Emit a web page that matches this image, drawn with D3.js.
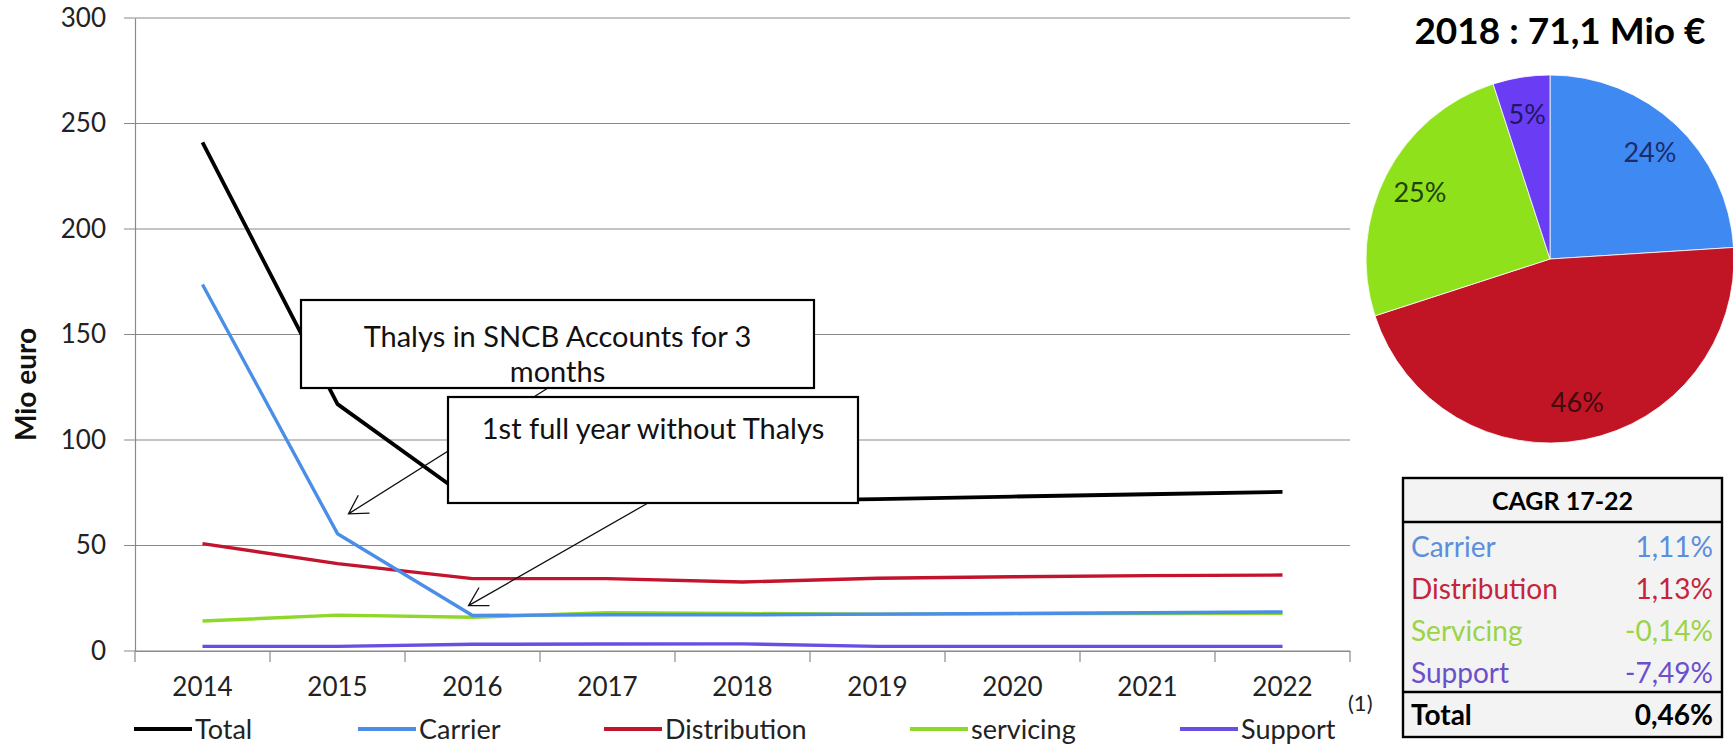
<!DOCTYPE html>
<html>
<head>
<meta charset="utf-8">
<script src="https://cdn.jsdelivr.net/npm/d3@7/dist/d3.min.js"></script>
<style>
  body { margin: 0; background: #fff; }
  svg text { font-family: Lato, "Open Sans", "DejaVu Sans", sans-serif; }
</style>
</head>
<body>
<svg id="chart" width="1733" height="747"></svg>
<script>
// ---- data -------------------------------------------------------------
const years = ["2014", "2015", "2016", "2017", "2018", "2019", "2020", "2021", "2022"];
const totalValues        = [241.0, 117.0, 71.0, 73.2, 71.1, 72.0, 73.2, 74.3, 75.4];
const carrierValues      = [173.7, 55.6, 16.8, 17.2, 17.1, 17.5, 17.8, 18.1, 18.5];
const distributionValues = [50.9, 41.4, 34.3, 34.3, 32.7, 34.5, 35.2, 35.7, 36.0];
const servicingValues    = [14.2, 17.0, 16.0, 18.1, 17.8, 17.4, 17.7, 17.8, 17.9];
const supportValues      = [2.2, 2.2, 3.2, 3.3, 3.4, 2.2, 2.2, 2.2, 2.2];
const seriesNames = ["Total", "Carrier", "Distribution", "servicing", "Support"];
const yTicks = [0, 50, 100, 150, 200, 250, 300];
const yAxisTitle = "Mio euro";

const pieTitle = "2018 : 71,1 Mio €";
const pieNames = ["Carrier", "Distribution", "servicing", "Support"];
const pieShares = [24, 46, 25, 5];

const cagrTitle = "CAGR 17-22";
const cagrNames = ["Carrier", "Distribution", "Servicing", "Support"];
const cagrValues = ["1,11%", "1,13%", "-0,14%", "-7,49%"];
const cagrTotalName = "Total";
const cagrTotalValue = "0,46%";

const noteFirst = ["Thalys in SNCB Accounts for 3", "months"];
const noteSecond = ["1st full year without Thalys"];
const footnoteMark = "(1)";

// ---- styles -----------------------------------------------------------
const lineColor = {
  Total: "#000000", Carrier: "#4a8ee8", Distribution: "#c3142d",
  servicing: "#8fd82a", Support: "#6a4de3"
};
const pieColor = {
  Carrier: "#3f89f2", Distribution: "#c11425", servicing: "#8fe11b", Support: "#6a3df4"
};
const pieLabelColor = {
  Carrier: "#1b2c6e", Distribution: "#3d0b10", servicing: "#22400a", Support: "#1e1763"
};
const cagrColor = {
  Carrier: "#5b8edb", Distribution: "#c4253b", Servicing: "#9bd445", Support: "#6a50cc"
};
const font = "Lato, 'Open Sans', sans-serif";

const svg = d3.select("#chart");

// ---- line chart -------------------------------------------------------
const plot = { left: 135, right: 1350, top: 18, bottom: 651 };
const x = d3.scaleBand().domain(years).range([plot.left, plot.right]);
const y = d3.scaleLinear().domain([0, 300]).range([plot.bottom, plot.top]);
const cx = d => x(d) + x.bandwidth() / 2;

// horizontal gridlines (they also form the left tick marks)
svg.append("g").selectAll("line").data(yTicks).join("line")
  .attr("x1", plot.left - 11).attr("x2", plot.right)
  .attr("y1", d => y(d)).attr("y2", d => y(d))
  .attr("stroke", "#8a8a8a").attr("stroke-width", 1.2);

// y axis with labels
const yAxis = svg.append("g").attr("transform", `translate(${plot.left},0)`)
  .call(d3.axisLeft(y).tickValues(yTicks).tickSize(0).tickPadding(29).tickFormat(d3.format("d")));
yAxis.select(".domain").attr("stroke", "#8a8a8a").attr("stroke-width", 1.2);
yAxis.selectAll("text").attr("font-size", 26).attr("fill", "#222").style("font-family", font);

svg.append("text")
  .attr("transform", `translate(36,${(plot.top + plot.bottom) / 2 + 50}) rotate(-90)`)
  .attr("text-anchor", "middle").attr("font-size", 28).attr("font-weight", 700)
  .attr("fill", "#111").text(yAxisTitle);

// x axis: baseline, boundary ticks, year labels
const xAxis = svg.append("g").attr("transform", `translate(0,${plot.bottom})`)
  .call(d3.axisBottom(x).tickSize(0).tickPadding(27));
xAxis.select(".domain").attr("stroke", "#8a8a8a").attr("stroke-width", 1.2);
xAxis.selectAll("text").attr("font-size", 26).attr("fill", "#222").style("font-family", font);
const bounds = years.map(d => x(d)).concat([x(years[years.length - 1]) + x.bandwidth()]);
svg.append("g").selectAll("line").data(bounds).join("line")
  .attr("x1", d => d).attr("x2", d => d)
  .attr("y1", plot.bottom).attr("y2", plot.bottom + 11)
  .attr("stroke", "#8a8a8a").attr("stroke-width", 1.2);

const series = [
  { name: "Support", values: supportValues },
  { name: "servicing", values: servicingValues },
  { name: "Distribution", values: distributionValues },
  { name: "Carrier", values: carrierValues },
  { name: "Total", values: totalValues }
];
const line = d3.line().x((d, i) => cx(years[i])).y(d => y(d));
svg.append("g").selectAll("path").data(series).join("path")
  .attr("d", s => line(s.values))
  .attr("fill", "none")
  .attr("stroke", s => lineColor[s.name])
  .attr("stroke-width", s => s.name === "Total" ? 3.8 : 3.4)
  .attr("stroke-linejoin", "round");

// legend
const legendX = { Total: 134, Carrier: 358, Distribution: 604, servicing: 910, Support: 1180 };
const legend = svg.append("g").selectAll("g").data(seriesNames).join("g")
  .attr("transform", d => `translate(${legendX[d]},729)`);
legend.append("line").attr("x1", 0).attr("x2", 58).attr("y1", 0).attr("y2", 0)
  .attr("stroke", d => lineColor[d]).attr("stroke-width", 3.8);
legend.append("text").attr("x", 61).attr("dy", "0.36em").attr("font-size", 27)
  .attr("fill", "#222").text(d => d);
svg.append("text").attr("x", 1348).attr("y", 711).attr("font-size", 22)
  .attr("fill", "#222").text(footnoteMark);

// callout arrows (drawn under the boxes)
function arrow(x1, y1, x2, y2) {
  const a = Math.atan2(y1 - y2, x1 - x2), len = 21, spread = Math.PI / 6;
  const p = d3.path();
  p.moveTo(x1, y1); p.lineTo(x2, y2);
  p.moveTo(x2 + len * Math.cos(a + spread), y2 + len * Math.sin(a + spread));
  p.lineTo(x2, y2);
  p.lineTo(x2 + len * Math.cos(a - spread), y2 + len * Math.sin(a - spread));
  svg.append("path").attr("d", p.toString()).attr("fill", "none")
    .attr("stroke", "#111").attr("stroke-width", 1.3);
}
arrow(548, 388, cx("2015") + 11, y(65));
arrow(648, 503, cx("2016") - 4, y(21.5));

function callout(x0, y0, w, h, lines, firstBaseline, lineGap) {
  const g = svg.append("g");
  g.append("rect").attr("x", x0).attr("y", y0).attr("width", w).attr("height", h)
    .attr("fill", "#fff").attr("stroke", "#000").attr("stroke-width", 2.2);
  g.selectAll("text").data(lines).join("text")
    .attr("x", x0 + w / 2).attr("y", (d, i) => firstBaseline + i * lineGap)
    .attr("text-anchor", "middle").attr("font-size", 29).attr("fill", "#111").text(d => d);
}
callout(301, 300, 513, 88, noteFirst, 347, 35);
callout(448, 397, 410, 106, noteSecond, 439, 33);

// ---- pie chart --------------------------------------------------------
const pieCenter = [1550, 259], pieR = 184;
const pieData = d3.pie().sort(null).value(d => d.share)
  (pieNames.map((n, i) => ({ name: n, share: pieShares[i] })));
const pg = svg.append("g").attr("transform", `translate(${pieCenter[0]},${pieCenter[1]})`);
pg.selectAll("path").data(pieData).join("path")
  .attr("d", d3.arc().innerRadius(0).outerRadius(pieR))
  .attr("fill", d => pieColor[d.data.name])
  .attr("stroke", "#fff").attr("stroke-width", 0.8);
const labelArc = d3.arc().innerRadius(146).outerRadius(146);
pg.selectAll("text").data(pieData).join("text")
  .attr("transform", d => `translate(${labelArc.centroid(d)})`)
  .attr("text-anchor", "middle").attr("dy", "0.35em").attr("font-size", 27)
  .attr("fill", d => pieLabelColor[d.data.name])
  .text(d => d.data.share + "%");
svg.append("text").attr("x", 1560).attr("y", 44).attr("text-anchor", "middle")
  .attr("font-size", 37).attr("font-weight", 700).attr("fill", "#000").text(pieTitle);

// ---- CAGR table -------------------------------------------------------
const tbl = { left: 1403, right: 1722, top: 478, bottom: 737, head: 522, foot: 692 };
const tg = svg.append("g");
tg.append("rect").attr("x", tbl.left).attr("y", tbl.top)
  .attr("width", tbl.right - tbl.left).attr("height", tbl.bottom - tbl.top)
  .attr("fill", "#f3f3f3").attr("stroke", "#000").attr("stroke-width", 2.4);
[tbl.head, tbl.foot].forEach(v => tg.append("line")
  .attr("x1", tbl.left).attr("x2", tbl.right).attr("y1", v).attr("y2", v)
  .attr("stroke", "#000").attr("stroke-width", 2.4));
tg.append("text").attr("x", (tbl.left + tbl.right) / 2).attr("y", 501).attr("dy", "0.35em")
  .attr("text-anchor", "middle").attr("font-size", 25).attr("font-weight", 700)
  .attr("fill", "#000").text(cagrTitle);
const rowY = d3.scalePoint().domain(cagrNames).range([547, 673]);
tg.selectAll("text.name").data(cagrNames).join("text").attr("class", "name")
  .attr("x", 1411).attr("y", d => rowY(d)).attr("dy", "0.35em").attr("font-size", 28)
  .attr("fill", d => cagrColor[d]).text(d => d);
tg.selectAll("text.val").data(cagrValues).join("text").attr("class", "val")
  .attr("x", 1713).attr("y", (d, i) => rowY(cagrNames[i])).attr("dy", "0.35em")
  .attr("text-anchor", "end").attr("font-size", 28)
  .attr("fill", (d, i) => cagrColor[cagrNames[i]]).text(d => d);
tg.append("text").attr("x", 1411).attr("y", 715).attr("dy", "0.35em").attr("font-size", 28)
  .attr("font-weight", 700).attr("fill", "#000").text(cagrTotalName);
tg.append("text").attr("x", 1713).attr("y", 715).attr("dy", "0.35em").attr("text-anchor", "end")
  .attr("font-size", 28).attr("font-weight", 700).attr("fill", "#000").text(cagrTotalValue);
</script>
</body>
</html>
